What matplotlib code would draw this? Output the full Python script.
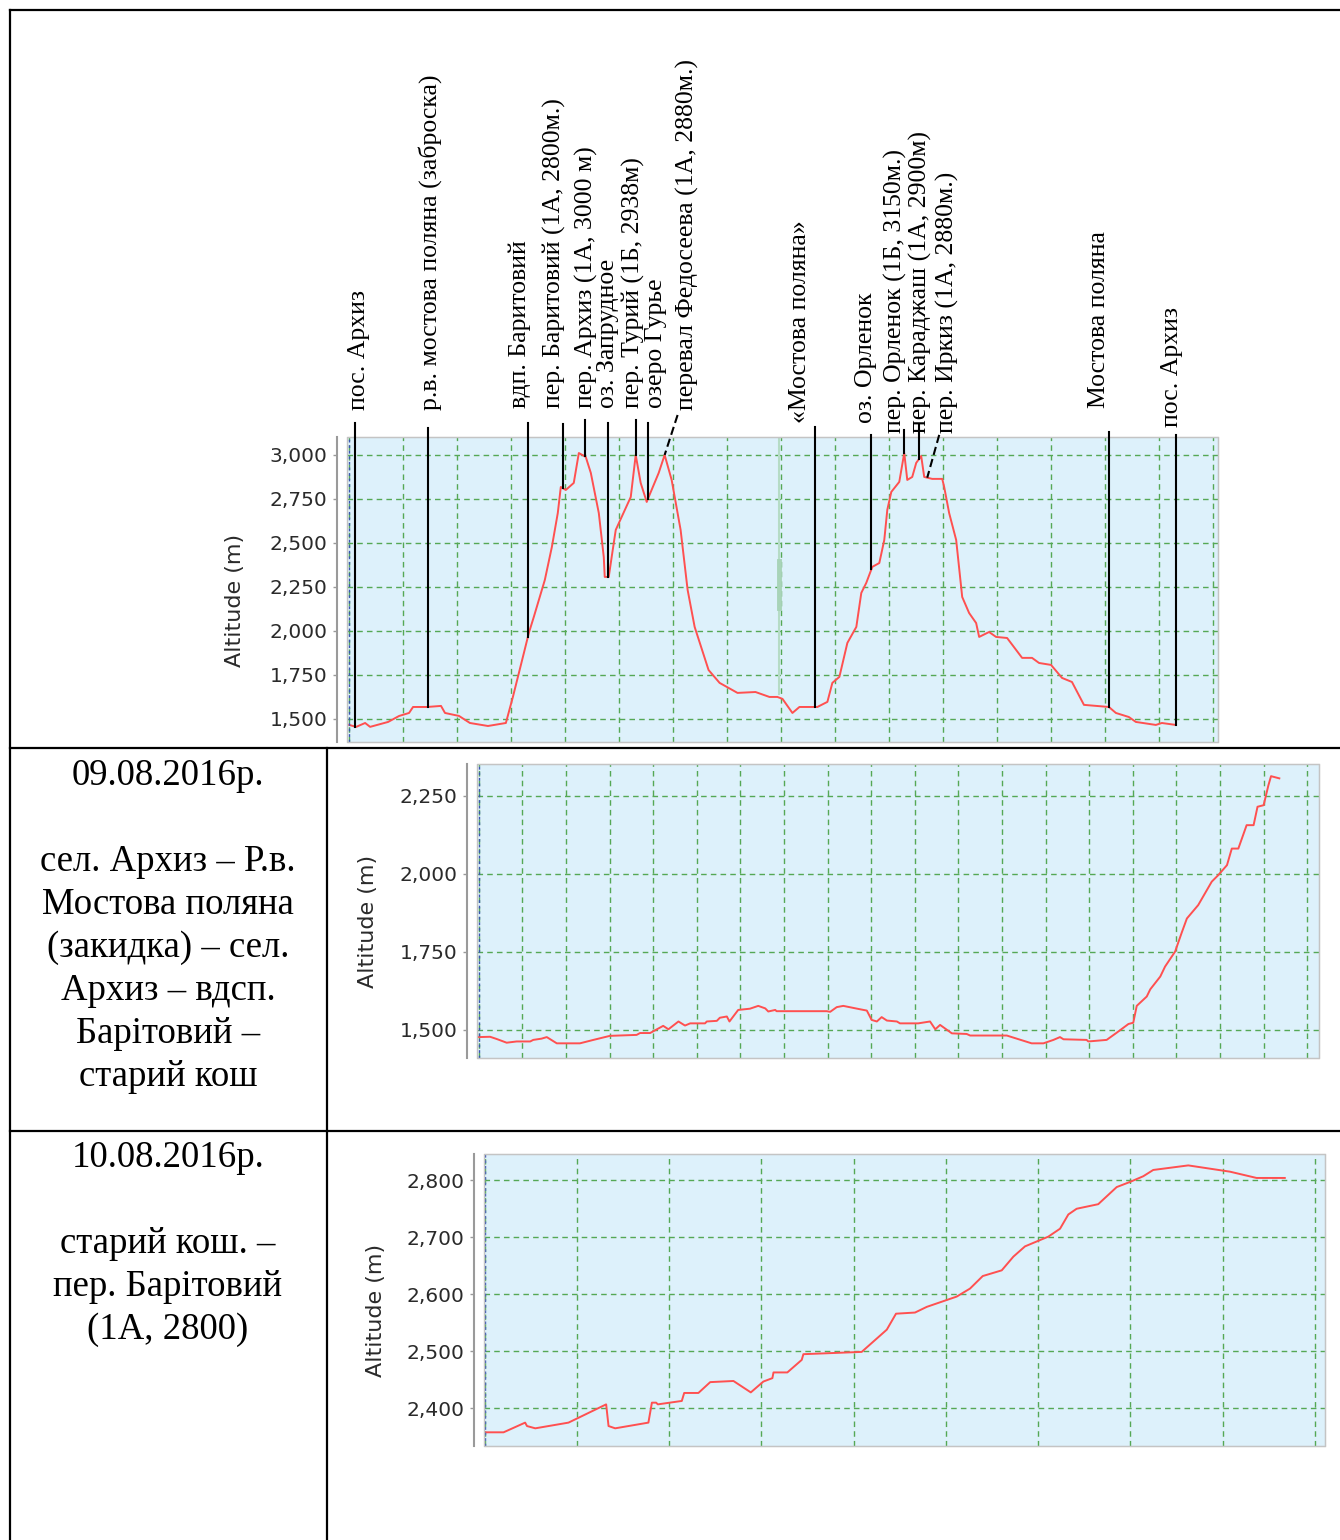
import matplotlib
matplotlib.use("Agg")
import matplotlib.pyplot as plt
from matplotlib.lines import Line2D
from matplotlib.patches import Rectangle
from matplotlib.ticker import MultipleLocator, StrMethodFormatter
import numpy as np

# whole route profile (distance, km / altitude, m)
route_km = [0.0, 0.65, 1.48, 1.94, 3.61, 4.63, 5.55, 5.92, 7.22, 8.51, 8.88, 10.18, 11.19, 12.86,
            14.52, 15.17, 16.19, 16.65, 17.11, 18.13, 18.78, 19.33, 19.61, 20.07, 20.81, 21.28,
            21.92, 22.39, 23.13, 23.59, 23.68, 24.05, 24.42, 24.70, 26.09, 26.55, 27.01, 27.57,
            27.75, 28.68, 29.23, 29.88, 30.71, 31.36, 32.01, 33.30, 34.32, 35.98, 37.65, 38.94,
            39.68, 40.15, 41.07, 41.72, 43.38, 44.31, 44.77, 45.42, 46.16, 46.99, 47.45, 47.91,
            48.47, 49.12, 49.58, 49.86, 50.23, 50.97, 51.43, 51.71, 52.17, 52.54, 53.00, 53.28,
            54.02, 54.95, 55.13, 55.59, 56.24, 56.80, 57.44, 58.09, 58.37, 59.29, 59.94, 60.96,
            62.35, 63.27, 63.92, 65.03, 66.05, 66.97, 68.08, 70.39, 71.04, 72.24, 72.89, 74.74,
            75.30, 76.59]
route_alt = [1466, 1455, 1477, 1455, 1483, 1517, 1534, 1568, 1568, 1574, 1534, 1517, 1477, 1460,
             1477, 1625, 1875, 1989, 2080, 2290, 2477, 2670, 2818, 2801, 2841, 3011,
             2989, 2898, 2670, 2420, 2307, 2307, 2460, 2574, 2761, 3000, 2841, 2733,
             2761, 2898, 3000, 2858, 2574, 2233, 2023, 1778, 1705, 1648, 1653, 1625,
             1625, 1614, 1534, 1568, 1568, 1597, 1705, 1739, 1932, 2023, 2216, 2273,
             2364, 2386, 2517, 2688, 2790, 2847, 3011, 2858, 2875, 2955, 2994, 2875,
             2864, 2864, 2818, 2670, 2517, 2193, 2102, 2045, 1966, 1994, 1966, 1960,
             1847, 1847, 1818, 1807, 1733, 1710, 1580, 1568, 1534, 1511, 1483, 1466,
             1477, 1466]

# waypoints on the route
waypoint_names = ["пос. Архиз", "р.в. мостова поляна (заброска)", "вдп. Баритовий",
                  "пер. Баритовий (1А, 2800м.)", "пер. Архиз (1А, 3000 м)", "оз. Запрудное",
                  "пер. Турий (1Б, 2938м)", "озеро Гурье", "перевал Федосеева (1А, 2880м.)",
                  "«Мостова поляна»", "оз. Орленок", "пер. Орленок (1Б, 3150м.)",
                  "пер. Караджаш (1А, 2900м)", "пер. Иркиз (1А, 2880м.)", "Мостова поляна",
                  "пос. Архиз"]
waypoint_km = [0.56, 7.31, 16.56, 19.80, 21.83, 23.96, 26.55, 27.66, 29.23,
               43.20, 48.38, 51.43, 52.82, 53.56, 70.39, 76.59]

# day 1: 09.08.2016
day1_km = [0.0, 0.26, 0.41, 0.64, 0.87, 1.18, 1.25, 1.44, 1.56, 1.79, 2.32, 2.63, 3.01, 3.62,
           3.70, 3.93, 4.23, 4.35, 4.58, 4.73, 4.85, 5.19, 5.23, 5.46, 5.53, 5.69, 5.75, 5.95,
           6.22, 6.41, 6.57, 6.64, 6.80, 6.83, 7.98, 8.06, 8.21, 8.36, 8.75, 8.90, 9.01, 9.13,
           9.24, 9.36, 9.59, 9.66, 10.08, 10.35, 10.47, 10.58, 10.85, 11.19, 11.27, 12.11,
           12.68, 12.95, 13.18, 13.33, 13.41, 13.94, 13.98, 14.40, 14.63, 14.90, 15.01, 15.09,
           15.32, 15.40, 15.63, 15.74, 15.97, 16.12, 16.24, 16.50, 16.81, 16.96, 17.16, 17.27,
           17.42, 17.61, 17.77, 17.86, 18.00, 18.11, 18.17, 18.36]
day1_alt = [1477, 1478, 1471, 1459, 1463, 1463, 1468, 1472, 1477, 1457, 1457, 1468, 1481, 1484,
            1490, 1490, 1513, 1502, 1527, 1514, 1521, 1521, 1527, 1529, 1539, 1543, 1527, 1564,
            1568, 1577, 1569, 1559, 1564, 1560, 1560, 1558, 1573, 1577, 1566, 1562, 1532, 1527,
            1541, 1530, 1527, 1521, 1521, 1527, 1502, 1516, 1489, 1487, 1482, 1482,
            1457, 1457, 1468, 1477, 1470, 1468, 1463, 1468, 1491, 1519, 1523, 1577,
            1607, 1630, 1671, 1703, 1751, 1811, 1857, 1900, 1975, 1996, 2028, 2081,
            2081, 2156, 2156, 2215, 2220, 2284, 2313, 2306]

# day 2: 10.08.2016
day2_km = [0.0, 0.103, 0.220, 0.230, 0.275, 0.455, 0.659, 0.672, 0.708, 0.888, 0.907, 0.930,
           0.939, 1.069, 1.082, 1.159, 1.223, 1.349, 1.443, 1.511, 1.560, 1.566, 1.641, 1.719,
           1.728, 2.044, 2.180, 2.230, 2.333, 2.397, 2.505, 2.559, 2.631, 2.700, 2.803, 2.866,
           2.929, 3.010, 3.055, 3.119, 3.164, 3.209, 3.326, 3.426, 3.498, 3.570, 3.624, 3.814,
           4.040, 4.184, 4.337]
day2_alt = [2358, 2358, 2375, 2369, 2365, 2375, 2407, 2369, 2365, 2375, 2410, 2410,
            2407, 2413, 2427, 2427, 2446, 2448, 2428, 2447, 2453, 2463, 2463, 2485,
            2495, 2499, 2538, 2566, 2568, 2578, 2590, 2596, 2610, 2632, 2642, 2666,
            2684, 2695, 2701, 2715, 2740, 2750, 2758, 2788, 2797, 2807, 2818, 2826,
            2815, 2804, 2804]

day1_caption = ["09.08.2016р.", "", "сел. Архиз – Р.в.", "Мостова поляна", "(закидка) – сел.",
                "Архиз – вдсп.", "Барітовий –", "старий кош"]
day2_caption = ["10.08.2016р.", "", "старий кош. –", "пер. Барітовий", "(1А, 2800)"]

# ---- layout (pixels of the 1340x1540 page) ----
W, H = 1340, 1540
label_x = [0.88, 7.49, 15.82, 19.06, 21.95, 23.95, 26.30, 28.40, 31.36,
           41.81, 47.92, 50.60, 52.91, 55.41, 69.47, 76.22]
label_base = [3256, 3256, 3267, 3267, 3267, 3267, 3267, 3267, 3256,
              3182, 3182, 3125, 3125, 3125, 3267, 3159]
line_top = [3182, 3153, 3182, 3176, 3199, 3182, 3199, 3182, 3227,
            3159, 3114, 3142, 3170, 3114, 3131, 3114]
line_top_km = list(waypoint_km)
line_top_km[8] = 30.43
line_top_km[13] = 54.67
dashed = [8, 13]

GRID = "#55a855"
LINE = "#ff5050"

fig = plt.figure(figsize=(W / 100, H / 100), dpi=100)
fig.patch.set_facecolor("white")


def px_axes(left, top, right, bottom):
    return fig.add_axes([left / W, 1 - bottom / H, (right - left) / W, (bottom - top) / H])


def style(ax, xlim, ylim, xstep, ystep):
    ax.set_facecolor("#ddf1fb")
    ax.set_xlim(*xlim)
    ax.set_ylim(*ylim)
    ax.xaxis.set_major_locator(MultipleLocator(xstep))
    ax.yaxis.set_major_locator(MultipleLocator(ystep))
    ax.yaxis.set_major_formatter(StrMethodFormatter("{x:,.0f}"))
    ax.grid(True, color=GRID, linestyle=(0, (4, 3)), linewidth=1.0)
    ax.set_axisbelow(True)
    ax.tick_params(axis="x", length=0, labelbottom=False)
    ax.tick_params(axis="y", length=3, width=1, color="#999999", labelsize=14.5,
                   labelcolor="#2a2a2a", pad=4)
    for s in ("top", "right", "bottom"):
        ax.spines[s].set_color("#c4c4c4")
    ax.spines["left"].set_position(("outward", 7))
    ax.spines["left"].set_color("#9a9a9a")
    ax.spines["left"].set_linewidth(1.5)
    ax.add_patch(Rectangle((0, 0), 1, 1, transform=ax.transAxes, fill=False,
                           edgecolor="#c4c4c4", lw=1, clip_on=False, zorder=5))
    ax.axvline(0, color="#3a55b0", lw=1, linestyle=(0, (2, 2)), zorder=4)
    ax.set_ylabel("Altitude (m)", fontsize=16, color="#2a2a2a")
    ax.yaxis.set_label_coords(-0.117, 0.465)


# top: whole route with waypoints
ax0 = px_axes(347, 437, 1218, 742)
style(ax0, (-0.2, 80.5), (1369, 3102), 5, 250)
ax0.plot([39.78, 39.78], [1640, 3100], color="#b5dcc6", lw=1.5, zorder=2)
ax0.plot([39.78, 39.78], [2130, 2400], color="#a8d4b8", lw=3.5, zorder=2)
ax0.plot(route_km, route_alt, color=LINE, lw=1.4, zorder=3)

for i, name in enumerate(waypoint_names):
    bottom = np.interp(waypoint_km[i], route_km, route_alt)
    ls = (0, (4, 2)) if i in dashed else "-"
    ax0.plot([line_top_km[i], waypoint_km[i]], [line_top[i], bottom], color="black",
             lw=1.5, linestyle=ls, clip_on=False, zorder=6)
    ax0.text(label_x[i], label_base[i], name, rotation=90, ha="center", va="bottom",
             fontsize=18.5, family=["Liberation Serif", "DejaVu Serif"], clip_on=False)

# day 1
ax1 = px_axes(477, 764, 1319, 1058)
style(ax1, (-0.04, 19.27), (1410, 2352), 1, 250)
ax1.plot(day1_km, day1_alt, color=LINE, lw=1.4, zorder=3)

# day 2
ax2 = px_axes(484, 1154, 1325, 1446)
style(ax2, (-0.003, 4.555), (2334, 2846), 0.5, 100)
ax2.plot(day2_km, day2_alt, color=LINE, lw=1.4, zorder=3)

# captions in the left column
for lines, base in ((day1_caption, 785), (day2_caption, 1167)):
    for k, line in enumerate(lines):
        fig.text(168 / W, 1 - (base + 43 * k) / H, line, ha="center", va="baseline",
                 fontsize=26.5, family=["Liberation Serif", "DejaVu Serif"])

# table rules
def rule(x0, y0, x1, y1):
    fig.add_artist(Line2D([x0 / W, x1 / W], [1 - y0 / H, 1 - y1 / H], color="black",
                          lw=1.6, transform=fig.transFigure))


rule(10, 10, W, 10)
rule(10, 10, 10, H)
rule(10, 748, W, 748)
rule(10, 1131, W, 1131)
rule(327, 748, 327, H)

fig.savefig("out.png", dpi=100, facecolor="white")
